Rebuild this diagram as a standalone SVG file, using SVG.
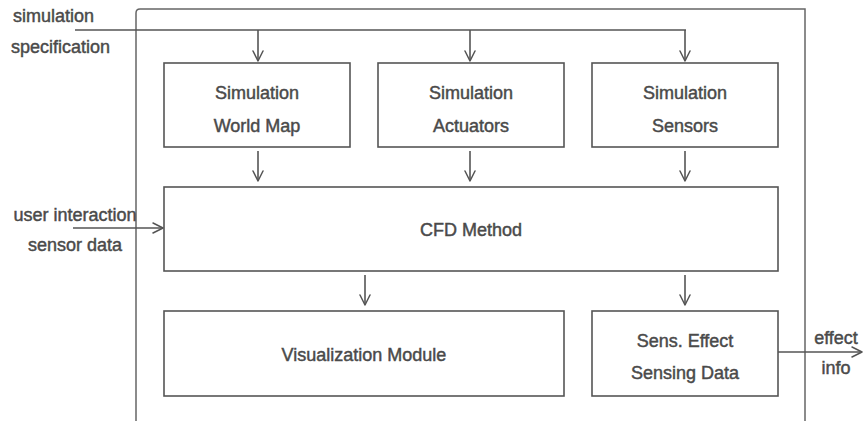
<svg xmlns="http://www.w3.org/2000/svg" width="864" height="421" viewBox="0 0 864 421">
  <defs>
    <marker id="arrow" viewBox="0 0 12 12" refX="11" refY="6" markerWidth="12" markerHeight="12" markerUnits="userSpaceOnUse" orient="auto">
      <path d="M1,1 L11,6 L1,11" fill="none" stroke="#555" stroke-width="1.5" stroke-linecap="round" stroke-linejoin="round"/>
    </marker>
  </defs>
  <style>
    .box { fill: #fff; stroke: #555; stroke-width: 1.6; }
    .frame { fill: none; stroke: #666; stroke-width: 1.5; }
    .wire { fill: none; stroke: #555; stroke-width: 1.6; }
    .arr { fill: none; stroke: #555; stroke-width: 1.6; marker-end: url(#arrow); }
    text { font-family: "Liberation Sans", Arial, sans-serif; font-size: 18px; fill: #4a4a4a; stroke: #4a4a4a; stroke-width: 0.45; }
    .c { text-anchor: middle; }
  </style>
  <rect width="864" height="421" fill="#fff"/>

  <!-- outer system boundary, open at the bottom -->
  <path class="frame" d="M136,421 L136,13 Q136,9 140,9 L805,9 L805,421"/>

  <g id="connectors">
    <!-- simulation specification feed -->
    <path class="wire" d="M75,30 L686,30"/>
    <path class="arr" d="M258,30 L258,61"/>
    <path class="arr" d="M470,30 L470,61"/>
    <path class="arr" d="M685,30 L685,61"/>
    <!-- configuration boxes into CFD -->
    <path class="arr" d="M258,151 L258,181"/>
    <path class="arr" d="M470,151 L470,181"/>
    <path class="arr" d="M685,151 L685,181"/>
    <!-- user input into CFD -->
    <path class="arr" d="M73,228 L163,228"/>
    <!-- CFD outputs -->
    <path class="arr" d="M365,275 L365,305"/>
    <path class="arr" d="M685,275 L685,305"/>
    <!-- effect info out -->
    <path class="arr" d="M778,352 L862,352"/>
  </g>

  <g id="labels">
    <text x="13" y="22">simulation</text>
    <text x="11" y="53">specification</text>
    <text x="75" y="221" class="c">user interaction</text>
    <text x="75" y="251" class="c">sensor data</text>
    <text x="836" y="344" class="c">effect</text>
    <text x="836" y="374" class="c">info</text>
  </g>

  <g id="world-map">
    <rect class="box" x="164" y="63" width="186" height="84"/>
    <text x="257" y="99" class="c">Simulation</text>
    <text x="257" y="132" class="c">World Map</text>
  </g>
  <g id="actuators">
    <rect class="box" x="378" y="63" width="186" height="84"/>
    <text x="471" y="99" class="c">Simulation</text>
    <text x="471" y="132" class="c">Actuators</text>
  </g>
  <g id="sensors">
    <rect class="box" x="592" y="63" width="186" height="84"/>
    <text x="685" y="99" class="c">Simulation</text>
    <text x="685" y="132" class="c">Sensors</text>
  </g>
  <g id="cfd">
    <rect class="box" x="164" y="187" width="614" height="84"/>
    <text x="471" y="236" class="c">CFD Method</text>
  </g>
  <g id="visualization">
    <rect class="box" x="164" y="311" width="400" height="85"/>
    <text x="364" y="361" class="c">Visualization Module</text>
  </g>
  <g id="sens-effect">
    <rect class="box" x="592" y="311" width="186" height="85"/>
    <text x="685" y="347" class="c">Sens. Effect</text>
    <text x="685" y="379" class="c">Sensing Data</text>
  </g>
</svg>
